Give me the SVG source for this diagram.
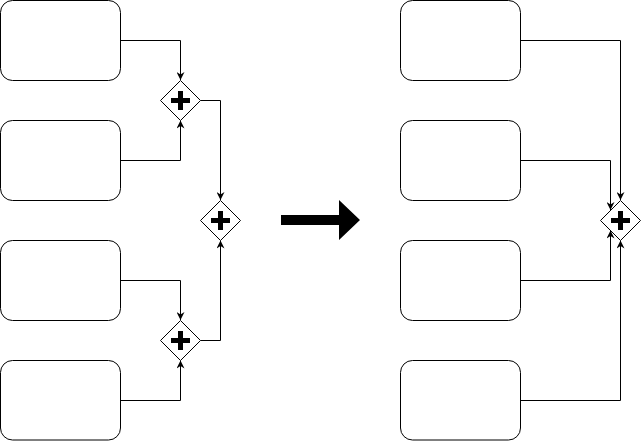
<svg xmlns="http://www.w3.org/2000/svg" width="641" height="441" viewBox="0 0 641 441">
<style>
.box{fill:#fff;stroke:#000;stroke-width:1}
.gw{fill:#fff;stroke:#000;stroke-width:1}
.plus{fill:#000}
.edge{fill:none;stroke:#000;stroke-width:1;marker-end:url(#arr)}
</style>
<defs>
<marker id="arr" viewBox="0 0 10 10" refX="10" refY="5" markerWidth="8" markerHeight="8" markerUnits="userSpaceOnUse" orient="auto">
<path d="M0,0 L10,5 L0,10 L3,5 Z" fill="#000"/>
</marker>
<g id="gwshape">
<path class="gw" d="M0,-20 L20,0 L0,20 L-20,0 Z"/>
<path class="plus" d="M-2.5,-9.5 H2.5 V-2.5 H9.5 V2.5 H2.5 V9.5 H-2.5 V2.5 H-9.5 V-2.5 H-2.5 Z"/>
</g>
</defs>
<rect width="641" height="441" fill="#fff"/>
<g id="connectors">
<path class="edge" d="M120.5,40.5 H180.5 V80"/>
<path class="edge" d="M120.5,160.5 H180.5 V120.5"/>
<path class="edge" d="M200.5,100.5 H220.5 V200"/>
<path class="edge" d="M120.5,280.5 H180.5 V320"/>
<path class="edge" d="M120.5,400.5 H180.5 V360.5"/>
<path class="edge" d="M200.5,340.5 H220.5 V240.5"/>
<path class="edge" d="M520.5,40.5 H620.5 V200"/>
<path class="edge" d="M520.5,160.5 H610.5 V210"/>
<path class="edge" d="M520.5,280.5 H610.5 V230.5"/>
<path class="edge" d="M520.5,400.5 H620.5 V240.5"/>
</g>
<g id="left1"><rect class="box" x="0.5" y="0.5" width="120" height="80" rx="12"/></g>
<g id="left2"><rect class="box" x="0.5" y="120.5" width="120" height="80" rx="12"/></g>
<g id="left3"><rect class="box" x="0.5" y="240.5" width="120" height="80" rx="12"/></g>
<g id="left4"><rect class="box" x="0.5" y="360.5" width="120" height="79.5" rx="12"/></g>
<g id="gw1"><use href="#gwshape" x="180.5" y="100.5"/></g>
<g id="gw2"><use href="#gwshape" x="220.5" y="220.5"/></g>
<g id="gw3"><use href="#gwshape" x="180.5" y="340.5"/></g>
<g id="bigArrow"><path d="M281,215 H339 V200 L360,220 L339,240 V225 H281 Z" fill="#000"/></g>
<g id="right1"><rect class="box" x="400.5" y="0.5" width="120" height="80" rx="12"/></g>
<g id="right2"><rect class="box" x="400.5" y="120.5" width="120" height="80" rx="12"/></g>
<g id="right3"><rect class="box" x="400.5" y="240.5" width="120" height="80" rx="12"/></g>
<g id="right4"><rect class="box" x="400.5" y="360.5" width="120" height="79.5" rx="12"/></g>
<g id="gw4"><use href="#gwshape" x="620.5" y="220.5"/></g>
</svg>
